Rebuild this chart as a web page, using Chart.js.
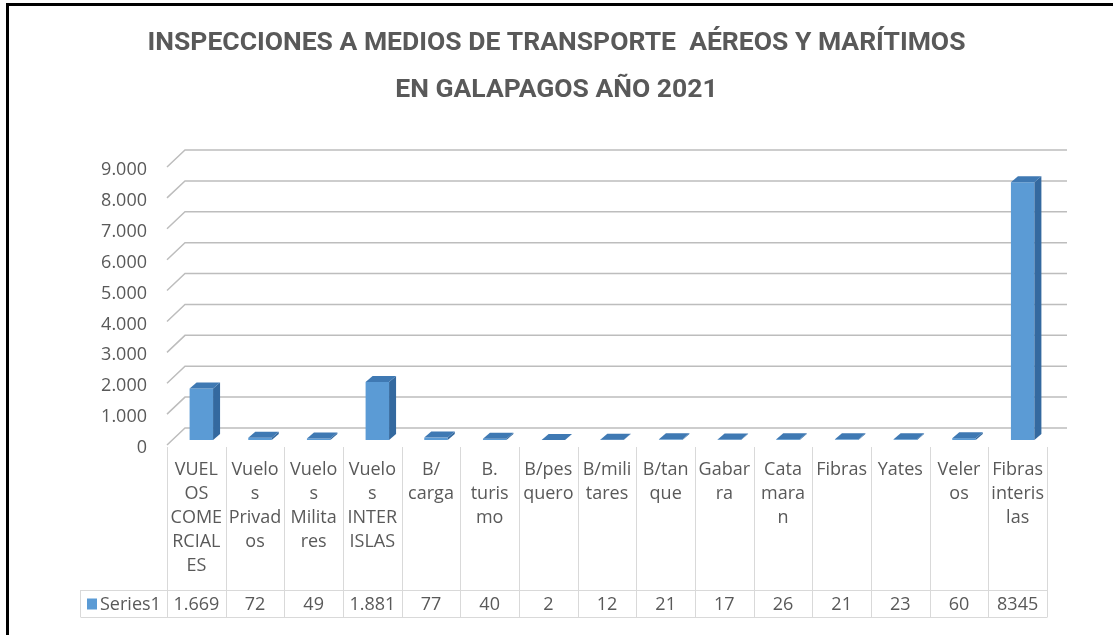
<!DOCTYPE html>
<html>
<head>
<meta charset="utf-8">
<script src="https://cdn.jsdelivr.net/npm/chart.js@4.4.1/dist/chart.umd.min.js"></script>
<style>
  html, body { margin: 0; padding: 0; background: #fff; }
  #wrap { width: 1113px; height: 635px; }
</style>
</head>
<body>
<div id="wrap"><canvas id="myChart" width="1113" height="635"></canvas></div>
<script>
"use strict";

// data
const titleLines = ['INSPECCIONES A MEDIOS DE TRANSPORTE  AÉREOS Y MARÍTIMOS', 'EN GALAPAGOS AÑO 2021'];
const categories = [
	['VUEL', 'OS', 'COME', 'RCIAL', 'ES'],
	['Vuelo', 's', 'Privad', 'os'],
	['Vuelo', 's', 'Milita', 'res'],
	['Vuelo', 's', 'INTER', 'ISLAS'],
	['B/', 'carga'],
	['B.', 'turis', 'mo'],
	['B/pes', 'quero'],
	['B/mili', 'tares'],
	['B/tan', 'que'],
	['Gabar', 'ra'],
	['Cata', 'mara', 'n'],
	['Fibras'],
	['Yates'],
	['Veler', 'os'],
	['Fibras', 'interis', 'las']
];
const seriesName = 'Series1';
const values = [1669, 72, 49, 1881, 77, 40, 2, 12, 21, 17, 26, 21, 23, 60, 8345];
const tableValues = ['1.669', '72', '49', '1.881', '77', '40', '2', '12', '21', '17', '26', '21', '23', '60', '8345'];
const yTickValues = [0, 1000, 2000, 3000, 4000, 5000, 6000, 7000, 8000, 9000];

const FONT = "'Open Sans', 'Noto Sans', sans-serif";
const TITLE_FONT = "'Liberation Sans Narrow', 'Roboto', sans-serif";
const TEXT = '#595959';
const BLUE = '#5B9BD5';
const SIDE = '#34699F';
const TOP = '#3F79B3';

// 3d look: back wall offset and bar depth
const wall = {dx: 18, dy: 17};
const depth = {dx: 7, dy: 6};
const barShift = {x: 5, y: -5};

// table under the plot
const table = {left: 80, colTop: 447, rowTop: 590, rowBottom: 617};

function fmt(v) {
	return String(v).replace(/\B(?=(\d{3})+(?!\d))/g, '.');
}

const threeD = {
	id: 'threeD',
	beforeDatasetsDraw(chart) {
		const ctx = chart.ctx;
		const y = chart.scales.y;
		const area = chart.chartArea;
		// back wall grid lines
		ctx.save();
		ctx.strokeStyle = '#BDBDBD';
		ctx.lineWidth = 1.5;
		yTickValues.forEach(v => {
			const py = y.getPixelForValue(v);
			ctx.beginPath();
			ctx.moveTo(area.left, py);
			ctx.lineTo(area.left + wall.dx, py - wall.dy);
			ctx.lineTo(area.right + 20, py - wall.dy);
			ctx.stroke();
		});
		ctx.restore();
		ctx.save();
		ctx.translate(barShift.x, barShift.y);
	},
	afterDatasetsDraw(chart) {
		const ctx = chart.ctx;
		chart.getDatasetMeta(0).data.forEach(bar => {
			const p = bar.getProps(['x', 'y', 'base', 'width'], true);
			const l = p.x - p.width / 2, r = p.x + p.width / 2;
			ctx.fillStyle = SIDE;
			ctx.beginPath();
			ctx.moveTo(r, p.y);
			ctx.lineTo(r + depth.dx, p.y - depth.dy);
			ctx.lineTo(r + depth.dx, p.base - depth.dy);
			ctx.lineTo(r, p.base);
			ctx.closePath();
			ctx.fill();
			ctx.fillStyle = TOP;
			ctx.beginPath();
			ctx.moveTo(l, p.y);
			ctx.lineTo(l + depth.dx, p.y - depth.dy);
			ctx.lineTo(r + depth.dx, p.y - depth.dy);
			ctx.lineTo(r, p.y);
			ctx.closePath();
			ctx.fill();
		});
		ctx.restore();
	},
	afterDraw(chart) {
		const ctx = chart.ctx;
		const x = chart.scales.x;
		const area = chart.chartArea;
		const half = (x.getPixelForValue(1) - x.getPixelForValue(0)) / 2;
		ctx.save();
		ctx.strokeStyle = '#D9D9D9';
		ctx.lineWidth = 1;
		// column lines
		for (let i = 0; i <= values.length; i++) {
			const px = Math.round(x.getPixelForValue(i) - half) + 0.5;
			ctx.beginPath();
			ctx.moveTo(px, table.colTop);
			ctx.lineTo(px, table.rowBottom);
			ctx.stroke();
		}
		// series row
		const right = Math.round(area.right) + 0.5;
		ctx.beginPath();
		ctx.moveTo(table.left + 0.5, table.rowTop + 0.5);
		ctx.lineTo(right, table.rowTop + 0.5);
		ctx.moveTo(table.left + 0.5, table.rowBottom + 0.5);
		ctx.lineTo(right, table.rowBottom + 0.5);
		ctx.moveTo(table.left + 0.5, table.rowTop);
		ctx.lineTo(table.left + 0.5, table.rowBottom);
		ctx.stroke();

		const midY = (table.rowTop + table.rowBottom) / 2 + 1;
		ctx.fillStyle = BLUE;
		ctx.fillRect(table.left + 7, midY - 6, 10, 11);
		ctx.fillStyle = TEXT;
		ctx.font = '18px ' + FONT;
		ctx.textBaseline = 'middle';
		ctx.textAlign = 'left';
		ctx.fillText(seriesName, table.left + 20, midY);
		ctx.textAlign = 'center';
		tableValues.forEach((t, i) => {
			ctx.fillText(t, x.getPixelForValue(i), midY);
		});

		// outer frame
		ctx.strokeStyle = '#000';
		ctx.lineWidth = 3;
		ctx.beginPath();
		ctx.moveTo(7.5, 635);
		ctx.lineTo(7.5, 4.5);
		ctx.lineTo(1113, 4.5);
		ctx.stroke();
		ctx.restore();
	}
};

const data = {
	labels: categories,
	datasets: [{
		label: seriesName,
		data: values,
		backgroundColor: BLUE,
		borderWidth: 0,
		categoryPercentage: 1,
		barPercentage: 0.4
	}]
};

const config = {
	type: 'bar',
	data: data,
	options: {
		responsive: false,
		animation: false,
		layout: {padding: {left: 0, right: 0, top: 20, bottom: 0}},
		plugins: {
			legend: {display: false},
			tooltip: {enabled: false},
			title: {
				display: true,
				text: titleLines,
				color: TEXT,
				font: {family: TITLE_FONT, size: 26.5, weight: 'bold', lineHeight: 1.774},
				padding: {top: 0, bottom: 53}
			}
		},
		scales: {
			x: {
				grid: {display: false, drawTicks: false},
				border: {display: false},
				ticks: {
					color: TEXT,
					font: {family: FONT, size: 18, lineHeight: 1.333},
					padding: 13,
					maxRotation: 0,
					autoSkip: false
				},
				afterFit(scale) { scale.height = 190; }
			},
			y: {
				min: 0,
				max: 9000,
				grid: {display: false, drawTicks: false},
				border: {display: false},
				afterBuildTicks(scale) { scale.ticks = yTickValues.map(v => ({value: v})); },
				ticks: {
					color: TEXT,
					font: {family: FONT, size: 18},
					padding: 20,
					labelOffset: 3,
					callback: v => fmt(v)
				},
				afterFit(scale) { scale.width = 167; }
			},
			// empty right axis keeps room for the back wall, title stays centred on the page
			yRight: {
				position: 'right',
				min: 0,
				max: 9000,
				grid: {display: false, drawTicks: false},
				border: {display: false},
				ticks: {display: false},
				afterFit(scale) { scale.width = 66; }
			}
		}
	},
	plugins: [threeD]
};

const myChart = new Chart(document.getElementById('myChart'), config);
</script>
</body>
</html>
